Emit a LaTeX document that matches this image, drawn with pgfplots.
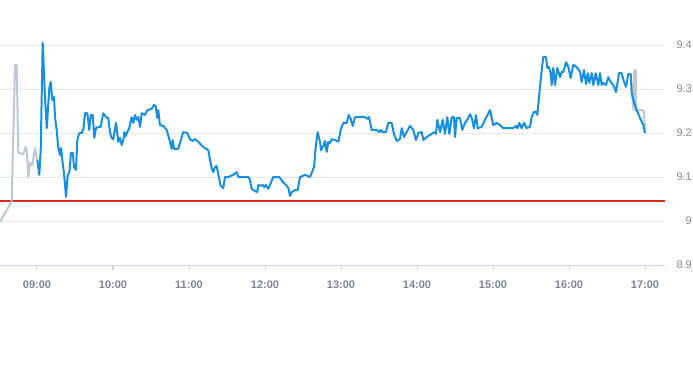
\documentclass[border=0pt]{standalone}
\usepackage{fontspec}
\setmainfont{Liberation Sans}
\usepackage{pgfplots}
\pgfplotsset{compat=1.18}
\definecolor{lineblue}{RGB}{22,142,226}
\definecolor{linegray}{RGB}{190,200,210}
\definecolor{refred}{RGB}{222,40,32}
\definecolor{gridc}{RGB}{230,230,230}
\definecolor{axisc}{RGB}{204,214,235}
\definecolor{xlab}{RGB}{122,134,152}
\definecolor{ylab}{RGB}{136,136,136}
\begin{document}
\begin{tikzpicture}
\useasboundingbox (0,0) rectangle (693pt,365pt);
\begin{axis}[
  at={(0pt,100pt)}, anchor=south west,
  scale only axis, width=665pt, height=220pt,
  xmin=8.5132, xmax=17.263, ymin=8.9, ymax=9.4,
  clip=false,
  axis x line*=bottom, axis y line*=right,
  x axis line style={draw=axisc, line width=1pt, -},
  y axis line style={draw=none},
  xtick={9,10,11,12,13,14,15,16,17},
  xticklabels={09:00,10:00,11:00,12:00,13:00,14:00,15:00,16:00,17:00},
  ytick={8.9,9,9.1,9.2,9.3,9.4},
  yticklabels={8.9,9,9.1,9.2,9.3,9.4},
  xtick align=outside,
  major tick length=5pt,
  xtick style={draw=axisc, line width=1pt},
  ytick style={draw=none},
  ymajorgrids,
  grid style={draw=gridc, line width=1pt},
  xticklabel style={font=\bfseries\fontsize{11}{13}\selectfont, text=xlab, anchor=base, yshift=-18.5pt},
  yticklabel style={font=\fontsize{11}{13}\selectfont, text=ylab, anchor=east, inner sep=0pt, xshift=27pt},
]
% reference line
\addplot[draw=refred, line width=1.9pt, mark=none] table {
x y
8.5132 9.045
17.263 9.045
};
% pre-session (gray)
\addplot[draw=linegray, line width=2pt, line join=round, mark=none] coordinates {
(8.513,8.998) (8.667,9.045) (8.711,9.355) (8.733,9.355) (8.754,9.155) (8.820,9.152)
(8.851,9.168) (8.868,9.157) (8.886,9.100) (8.908,9.132) (8.938,9.127) (8.974,9.166)
(8.996,9.143) (9.004,9.139)
};
% closing (gray)
\addplot[draw=linegray, line width=2pt, line join=round, mark=none] coordinates {
(16.816,9.320) (16.833,9.284) (16.849,9.252) (16.859,9.343) (16.878,9.343)
(16.882,9.250) (16.912,9.252) (16.970,9.252) (16.987,9.248) (17.000,9.200)
};
% main series (blue)
\addplot[draw=lineblue, line width=2pt, line join=round, mark=none] coordinates {
(9.004,9.139) (9.030,9.105) (9.049,9.161) (9.075,9.405) (9.105,9.282) (9.128,9.211)
(9.162,9.302) (9.180,9.316) (9.201,9.275) (9.224,9.282) (9.237,9.236) (9.259,9.207)
(9.280,9.166) (9.303,9.150) (9.316,9.166) (9.333,9.139) (9.355,9.109) (9.382,9.055)
(9.404,9.105) (9.425,9.109) (9.447,9.155) (9.470,9.155) (9.487,9.123) (9.513,9.116)
(9.530,9.184) (9.557,9.200) (9.588,9.200) (9.609,9.207) (9.632,9.245) (9.662,9.245)
(9.688,9.207) (9.707,9.241) (9.733,9.241) (9.754,9.189) (9.776,9.211) (9.807,9.214)
(9.838,9.214) (9.872,9.245) (9.908,9.236) (9.938,9.234) (9.951,9.214) (9.974,9.191)
(10.004,9.186) (10.039,9.223) (10.070,9.180) (10.092,9.189) (10.114,9.173) (10.136,9.184)
(10.149,9.202) (10.167,9.193) (10.188,9.202) (10.214,9.211) (10.246,9.236) (10.267,9.223)
(10.289,9.241) (10.312,9.230) (10.333,9.236) (10.355,9.214) (10.378,9.245) (10.421,9.241)
(10.451,9.252) (10.509,9.255) (10.539,9.264) (10.562,9.261) (10.583,9.234) (10.596,9.252)
(10.618,9.218) (10.662,9.216) (10.707,9.207) (10.750,9.180) (10.772,9.164) (10.786,9.184)
(10.803,9.164) (10.859,9.164) (10.904,9.191) (10.925,9.202) (10.978,9.200) (11.013,9.186)
(11.049,9.182) (11.079,9.186) (11.122,9.180) (11.188,9.168) (11.254,9.161) (11.276,9.139)
(11.299,9.120) (11.320,9.111) (11.342,9.123) (11.364,9.125) (11.386,9.105) (11.417,9.080)
(11.451,9.075) (11.474,9.100) (11.517,9.100) (11.583,9.105) (11.628,9.111) (11.649,9.100)
(11.780,9.100) (11.803,9.093) (11.825,9.073) (11.868,9.068) (11.899,9.066) (11.912,9.082)
(11.943,9.080) (11.970,9.082) (11.991,9.077) (12.013,9.082) (12.043,9.073) (12.075,9.086)
(12.109,9.100) (12.188,9.100) (12.233,9.089) (12.276,9.082) (12.307,9.075) (12.329,9.057)
(12.351,9.066) (12.395,9.070) (12.430,9.070) (12.461,9.100) (12.526,9.105) (12.592,9.100)
(12.614,9.109) (12.645,9.123) (12.667,9.168) (12.693,9.202) (12.724,9.180) (12.737,9.161)
(12.767,9.170) (12.789,9.182) (12.812,9.157) (12.833,9.180) (12.855,9.177) (12.878,9.186)
(12.921,9.184) (12.965,9.180) (12.996,9.207) (13.030,9.223) (13.075,9.223) (13.101,9.241)
(13.128,9.232) (13.154,9.216) (13.184,9.236) (13.316,9.236) (13.346,9.232) (13.368,9.236)
(13.404,9.207) (13.470,9.207) (13.504,9.202) (13.522,9.207) (13.549,9.202) (13.592,9.202)
(13.622,9.223) (13.667,9.223) (13.697,9.198) (13.733,9.182) (13.776,9.186) (13.799,9.211)
(13.829,9.191) (13.864,9.202) (13.908,9.216) (13.951,9.207) (13.987,9.184) (14.017,9.200)
(14.062,9.202) (14.083,9.184) (14.128,9.191) (14.193,9.198) (14.228,9.202) (14.250,9.198)
(14.267,9.230) (14.303,9.202) (14.338,9.230) (14.368,9.198) (14.399,9.236) (14.425,9.198)
(14.457,9.236) (14.487,9.236) (14.500,9.191) (14.522,9.234) (14.566,9.234) (14.596,9.207)
(14.632,9.223) (14.662,9.230) (14.697,9.243) (14.720,9.234) (14.750,9.211) (14.776,9.241)
(14.799,9.211) (14.851,9.214) (14.895,9.230) (14.961,9.252) (15.004,9.218) (15.049,9.223)
(15.092,9.218) (15.136,9.211) (15.267,9.211) (15.303,9.216) (15.325,9.211) (15.346,9.223)
(15.378,9.211) (15.408,9.223) (15.443,9.211) (15.487,9.214) (15.509,9.236) (15.539,9.248)
(15.566,9.248) (15.583,9.241) (15.618,9.305) (15.641,9.343) (15.662,9.373) (15.697,9.373)
(15.714,9.348) (15.737,9.350) (15.759,9.336) (15.772,9.309) (15.793,9.348) (15.816,9.309)
(15.846,9.348) (15.882,9.327) (15.904,9.339) (15.925,9.339) (15.961,9.361) (15.991,9.350)
(16.022,9.325) (16.057,9.355) (16.101,9.350) (16.145,9.339) (16.167,9.316) (16.197,9.343)
(16.224,9.311) (16.246,9.336) (16.267,9.314) (16.299,9.336) (16.320,9.309) (16.351,9.336)
(16.386,9.309) (16.408,9.336) (16.430,9.309) (16.451,9.314) (16.487,9.309) (16.517,9.327)
(16.549,9.316) (16.583,9.309) (16.618,9.293) (16.658,9.336) (16.693,9.336) (16.724,9.316)
(16.750,9.305) (16.780,9.334) (16.812,9.334) (16.825,9.291) (16.855,9.270) (16.891,9.252)
(16.934,9.234) (16.978,9.218) (17.000,9.200)
};
\end{axis}
\end{tikzpicture}
\end{document}
